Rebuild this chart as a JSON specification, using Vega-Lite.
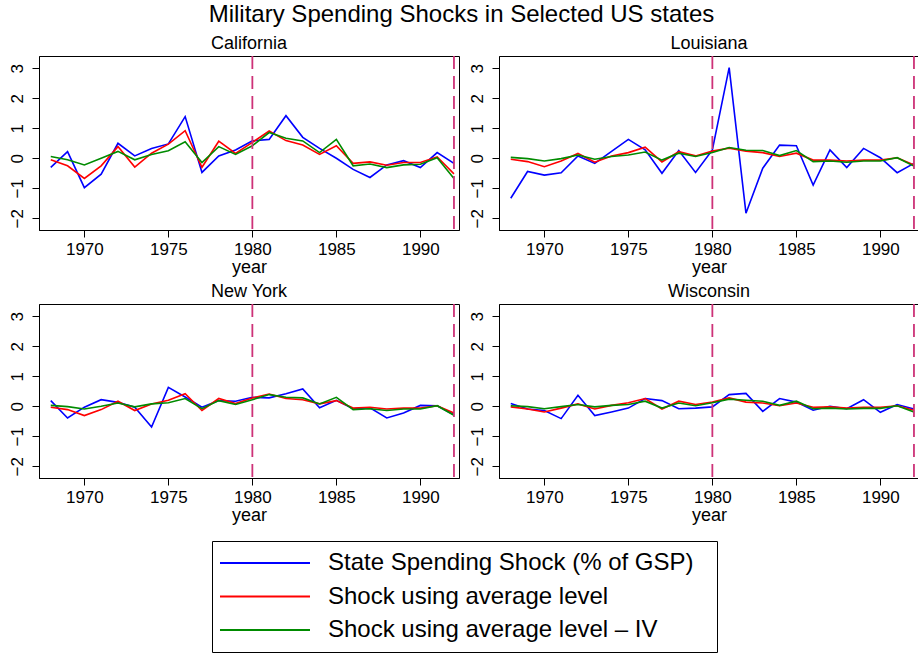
{
"$schema": "https://vega.github.io/schema/vega-lite/v6.json",
"padding": {"left": 7, "top": 2, "right": 0, "bottom": 0},
"background": "white",
"title": {"text": "Military Spending Shocks in Selected US states", "fontSize": 24, "font": "Liberation Sans", "fontWeight": "normal", "color": "black", "anchor": "middle", "offset": 8, "dx": -2},
"datasets": {
"breaks": [{"year": 1980}, {"year": 1992}],
"shocks": [
{"state":"California","series":"gsp","year":1968,"value":-0.3},
{"state":"California","series":"gsp","year":1969,"value":0.22},
{"state":"California","series":"gsp","year":1970,"value":-0.98},
{"state":"California","series":"gsp","year":1971,"value":-0.53},
{"state":"California","series":"gsp","year":1972,"value":0.5},
{"state":"California","series":"gsp","year":1973,"value":0.08},
{"state":"California","series":"gsp","year":1974,"value":0.33},
{"state":"California","series":"gsp","year":1975,"value":0.48},
{"state":"California","series":"gsp","year":1976,"value":1.39},
{"state":"California","series":"gsp","year":1977,"value":-0.47},
{"state":"California","series":"gsp","year":1978,"value":0.08},
{"state":"California","series":"gsp","year":1979,"value":0.28},
{"state":"California","series":"gsp","year":1980,"value":0.58},
{"state":"California","series":"gsp","year":1981,"value":0.63},
{"state":"California","series":"gsp","year":1982,"value":1.42},
{"state":"California","series":"gsp","year":1983,"value":0.7},
{"state":"California","series":"gsp","year":1984,"value":0.33},
{"state":"California","series":"gsp","year":1985,"value":0.0},
{"state":"California","series":"gsp","year":1986,"value":-0.37},
{"state":"California","series":"gsp","year":1987,"value":-0.64},
{"state":"California","series":"gsp","year":1988,"value":-0.22},
{"state":"California","series":"gsp","year":1989,"value":-0.08},
{"state":"California","series":"gsp","year":1990,"value":-0.31},
{"state":"California","series":"gsp","year":1991,"value":0.19},
{"state":"California","series":"gsp","year":1992,"value":-0.17},
{"state":"California","series":"avg","year":1968,"value":-0.05},
{"state":"California","series":"avg","year":1969,"value":-0.25},
{"state":"California","series":"avg","year":1970,"value":-0.67},
{"state":"California","series":"avg","year":1971,"value":-0.25},
{"state":"California","series":"avg","year":1972,"value":0.39},
{"state":"California","series":"avg","year":1973,"value":-0.29},
{"state":"California","series":"avg","year":1974,"value":0.17},
{"state":"California","series":"avg","year":1975,"value":0.47},
{"state":"California","series":"avg","year":1976,"value":0.92},
{"state":"California","series":"avg","year":1977,"value":-0.3},
{"state":"California","series":"avg","year":1978,"value":0.57},
{"state":"California","series":"avg","year":1979,"value":0.16},
{"state":"California","series":"avg","year":1980,"value":0.53},
{"state":"California","series":"avg","year":1981,"value":0.91},
{"state":"California","series":"avg","year":1982,"value":0.59},
{"state":"California","series":"avg","year":1983,"value":0.44},
{"state":"California","series":"avg","year":1984,"value":0.13},
{"state":"California","series":"avg","year":1985,"value":0.42},
{"state":"California","series":"avg","year":1986,"value":-0.17},
{"state":"California","series":"avg","year":1987,"value":-0.12},
{"state":"California","series":"avg","year":1988,"value":-0.23},
{"state":"California","series":"avg","year":1989,"value":-0.14},
{"state":"California","series":"avg","year":1990,"value":-0.14},
{"state":"California","series":"avg","year":1991,"value":0.05},
{"state":"California","series":"avg","year":1992,"value":-0.52},
{"state":"California","series":"iv","year":1968,"value":0.06},
{"state":"California","series":"iv","year":1969,"value":-0.05},
{"state":"California","series":"iv","year":1970,"value":-0.22},
{"state":"California","series":"iv","year":1971,"value":0.0},
{"state":"California","series":"iv","year":1972,"value":0.23},
{"state":"California","series":"iv","year":1973,"value":-0.05},
{"state":"California","series":"iv","year":1974,"value":0.13},
{"state":"California","series":"iv","year":1975,"value":0.25},
{"state":"California","series":"iv","year":1976,"value":0.55},
{"state":"California","series":"iv","year":1977,"value":-0.14},
{"state":"California","series":"iv","year":1978,"value":0.39},
{"state":"California","series":"iv","year":1979,"value":0.13},
{"state":"California","series":"iv","year":1980,"value":0.42},
{"state":"California","series":"iv","year":1981,"value":0.86},
{"state":"California","series":"iv","year":1982,"value":0.67},
{"state":"California","series":"iv","year":1983,"value":0.58},
{"state":"California","series":"iv","year":1984,"value":0.19},
{"state":"California","series":"iv","year":1985,"value":0.63},
{"state":"California","series":"iv","year":1986,"value":-0.25},
{"state":"California","series":"iv","year":1987,"value":-0.19},
{"state":"California","series":"iv","year":1988,"value":-0.31},
{"state":"California","series":"iv","year":1989,"value":-0.22},
{"state":"California","series":"iv","year":1990,"value":-0.2},
{"state":"California","series":"iv","year":1991,"value":0.02},
{"state":"California","series":"iv","year":1992,"value":-0.67},
{"state":"Louisiana","series":"gsp","year":1968,"value":-1.33},
{"state":"Louisiana","series":"gsp","year":1969,"value":-0.44},
{"state":"Louisiana","series":"gsp","year":1970,"value":-0.56},
{"state":"Louisiana","series":"gsp","year":1971,"value":-0.48},
{"state":"Louisiana","series":"gsp","year":1972,"value":0.08},
{"state":"Louisiana","series":"gsp","year":1973,"value":-0.17},
{"state":"Louisiana","series":"gsp","year":1974,"value":0.23},
{"state":"Louisiana","series":"gsp","year":1975,"value":0.63},
{"state":"Louisiana","series":"gsp","year":1976,"value":0.28},
{"state":"Louisiana","series":"gsp","year":1977,"value":-0.5},
{"state":"Louisiana","series":"gsp","year":1978,"value":0.26},
{"state":"Louisiana","series":"gsp","year":1979,"value":-0.47},
{"state":"Louisiana","series":"gsp","year":1980,"value":0.28},
{"state":"Louisiana","series":"gsp","year":1981,"value":3.02},
{"state":"Louisiana","series":"gsp","year":1982,"value":-1.83},
{"state":"Louisiana","series":"gsp","year":1983,"value":-0.33},
{"state":"Louisiana","series":"gsp","year":1984,"value":0.44},
{"state":"Louisiana","series":"gsp","year":1985,"value":0.42},
{"state":"Louisiana","series":"gsp","year":1986,"value":-0.89},
{"state":"Louisiana","series":"gsp","year":1987,"value":0.28},
{"state":"Louisiana","series":"gsp","year":1988,"value":-0.31},
{"state":"Louisiana","series":"gsp","year":1989,"value":0.33},
{"state":"Louisiana","series":"gsp","year":1990,"value":0.02},
{"state":"Louisiana","series":"gsp","year":1991,"value":-0.48},
{"state":"Louisiana","series":"gsp","year":1992,"value":-0.17},
{"state":"Louisiana","series":"avg","year":1968,"value":-0.03},
{"state":"Louisiana","series":"avg","year":1969,"value":-0.11},
{"state":"Louisiana","series":"avg","year":1970,"value":-0.28},
{"state":"Louisiana","series":"avg","year":1971,"value":-0.09},
{"state":"Louisiana","series":"avg","year":1972,"value":0.16},
{"state":"Louisiana","series":"avg","year":1973,"value":-0.13},
{"state":"Louisiana","series":"avg","year":1974,"value":0.08},
{"state":"Louisiana","series":"avg","year":1975,"value":0.19},
{"state":"Louisiana","series":"avg","year":1976,"value":0.37},
{"state":"Louisiana","series":"avg","year":1977,"value":-0.12},
{"state":"Louisiana","series":"avg","year":1978,"value":0.22},
{"state":"Louisiana","series":"avg","year":1979,"value":0.08},
{"state":"Louisiana","series":"avg","year":1980,"value":0.24},
{"state":"Louisiana","series":"avg","year":1981,"value":0.34},
{"state":"Louisiana","series":"avg","year":1982,"value":0.24},
{"state":"Louisiana","series":"avg","year":1983,"value":0.19},
{"state":"Louisiana","series":"avg","year":1984,"value":0.06},
{"state":"Louisiana","series":"avg","year":1985,"value":0.17},
{"state":"Louisiana","series":"avg","year":1986,"value":-0.06},
{"state":"Louisiana","series":"avg","year":1987,"value":-0.06},
{"state":"Louisiana","series":"avg","year":1988,"value":-0.09},
{"state":"Louisiana","series":"avg","year":1989,"value":-0.06},
{"state":"Louisiana","series":"avg","year":1990,"value":-0.06},
{"state":"Louisiana","series":"avg","year":1991,"value":0.02},
{"state":"Louisiana","series":"avg","year":1992,"value":-0.22},
{"state":"Louisiana","series":"iv","year":1968,"value":0.03},
{"state":"Louisiana","series":"iv","year":1969,"value":-0.01},
{"state":"Louisiana","series":"iv","year":1970,"value":-0.09},
{"state":"Louisiana","series":"iv","year":1971,"value":-0.01},
{"state":"Louisiana","series":"iv","year":1972,"value":0.11},
{"state":"Louisiana","series":"iv","year":1973,"value":-0.03},
{"state":"Louisiana","series":"iv","year":1974,"value":0.06},
{"state":"Louisiana","series":"iv","year":1975,"value":0.11},
{"state":"Louisiana","series":"iv","year":1976,"value":0.21},
{"state":"Louisiana","series":"iv","year":1977,"value":-0.06},
{"state":"Louisiana","series":"iv","year":1978,"value":0.17},
{"state":"Louisiana","series":"iv","year":1979,"value":0.06},
{"state":"Louisiana","series":"iv","year":1980,"value":0.19},
{"state":"Louisiana","series":"iv","year":1981,"value":0.36},
{"state":"Louisiana","series":"iv","year":1982,"value":0.27},
{"state":"Louisiana","series":"iv","year":1983,"value":0.26},
{"state":"Louisiana","series":"iv","year":1984,"value":0.09},
{"state":"Louisiana","series":"iv","year":1985,"value":0.26},
{"state":"Louisiana","series":"iv","year":1986,"value":-0.11},
{"state":"Louisiana","series":"iv","year":1987,"value":-0.09},
{"state":"Louisiana","series":"iv","year":1988,"value":-0.13},
{"state":"Louisiana","series":"iv","year":1989,"value":-0.09},
{"state":"Louisiana","series":"iv","year":1990,"value":-0.09},
{"state":"Louisiana","series":"iv","year":1991,"value":0.02},
{"state":"Louisiana","series":"iv","year":1992,"value":-0.26},
{"state":"New York","series":"gsp","year":1968,"value":0.19},
{"state":"New York","series":"gsp","year":1969,"value":-0.39},
{"state":"New York","series":"gsp","year":1970,"value":-0.03},
{"state":"New York","series":"gsp","year":1971,"value":0.22},
{"state":"New York","series":"gsp","year":1972,"value":0.13},
{"state":"New York","series":"gsp","year":1973,"value":-0.03},
{"state":"New York","series":"gsp","year":1974,"value":-0.69},
{"state":"New York","series":"gsp","year":1975,"value":0.63},
{"state":"New York","series":"gsp","year":1976,"value":0.31},
{"state":"New York","series":"gsp","year":1977,"value":-0.03},
{"state":"New York","series":"gsp","year":1978,"value":0.19},
{"state":"New York","series":"gsp","year":1979,"value":0.17},
{"state":"New York","series":"gsp","year":1980,"value":0.3},
{"state":"New York","series":"gsp","year":1981,"value":0.28},
{"state":"New York","series":"gsp","year":1982,"value":0.42},
{"state":"New York","series":"gsp","year":1983,"value":0.58},
{"state":"New York","series":"gsp","year":1984,"value":-0.05},
{"state":"New York","series":"gsp","year":1985,"value":0.2},
{"state":"New York","series":"gsp","year":1986,"value":-0.08},
{"state":"New York","series":"gsp","year":1987,"value":-0.05},
{"state":"New York","series":"gsp","year":1988,"value":-0.39},
{"state":"New York","series":"gsp","year":1989,"value":-0.22},
{"state":"New York","series":"gsp","year":1990,"value":0.03},
{"state":"New York","series":"gsp","year":1991,"value":0.02},
{"state":"New York","series":"gsp","year":1992,"value":-0.28},
{"state":"New York","series":"avg","year":1968,"value":-0.03},
{"state":"New York","series":"avg","year":1969,"value":-0.11},
{"state":"New York","series":"avg","year":1970,"value":-0.31},
{"state":"New York","series":"avg","year":1971,"value":-0.11},
{"state":"New York","series":"avg","year":1972,"value":0.17},
{"state":"New York","series":"avg","year":1973,"value":-0.14},
{"state":"New York","series":"avg","year":1974,"value":0.08},
{"state":"New York","series":"avg","year":1975,"value":0.2},
{"state":"New York","series":"avg","year":1976,"value":0.42},
{"state":"New York","series":"avg","year":1977,"value":-0.14},
{"state":"New York","series":"avg","year":1978,"value":0.26},
{"state":"New York","series":"avg","year":1979,"value":0.09},
{"state":"New York","series":"avg","year":1980,"value":0.28},
{"state":"New York","series":"avg","year":1981,"value":0.41},
{"state":"New York","series":"avg","year":1982,"value":0.26},
{"state":"New York","series":"avg","year":1983,"value":0.22},
{"state":"New York","series":"avg","year":1984,"value":0.08},
{"state":"New York","series":"avg","year":1985,"value":0.19},
{"state":"New York","series":"avg","year":1986,"value":-0.06},
{"state":"New York","series":"avg","year":1987,"value":-0.03},
{"state":"New York","series":"avg","year":1988,"value":-0.09},
{"state":"New York","series":"avg","year":1989,"value":-0.06},
{"state":"New York","series":"avg","year":1990,"value":-0.06},
{"state":"New York","series":"avg","year":1991,"value":0.02},
{"state":"New York","series":"avg","year":1992,"value":-0.22},
{"state":"New York","series":"iv","year":1968,"value":0.03},
{"state":"New York","series":"iv","year":1969,"value":-0.01},
{"state":"New York","series":"iv","year":1970,"value":-0.09},
{"state":"New York","series":"iv","year":1971,"value":0.0},
{"state":"New York","series":"iv","year":1972,"value":0.11},
{"state":"New York","series":"iv","year":1973,"value":-0.02},
{"state":"New York","series":"iv","year":1974,"value":0.08},
{"state":"New York","series":"iv","year":1975,"value":0.12},
{"state":"New York","series":"iv","year":1976,"value":0.26},
{"state":"New York","series":"iv","year":1977,"value":-0.08},
{"state":"New York","series":"iv","year":1978,"value":0.19},
{"state":"New York","series":"iv","year":1979,"value":0.06},
{"state":"New York","series":"iv","year":1980,"value":0.22},
{"state":"New York","series":"iv","year":1981,"value":0.39},
{"state":"New York","series":"iv","year":1982,"value":0.3},
{"state":"New York","series":"iv","year":1983,"value":0.28},
{"state":"New York","series":"iv","year":1984,"value":0.08},
{"state":"New York","series":"iv","year":1985,"value":0.3},
{"state":"New York","series":"iv","year":1986,"value":-0.11},
{"state":"New York","series":"iv","year":1987,"value":-0.08},
{"state":"New York","series":"iv","year":1988,"value":-0.14},
{"state":"New York","series":"iv","year":1989,"value":-0.09},
{"state":"New York","series":"iv","year":1990,"value":-0.09},
{"state":"New York","series":"iv","year":1991,"value":0.02},
{"state":"New York","series":"iv","year":1992,"value":-0.3},
{"state":"Wisconsin","series":"gsp","year":1968,"value":0.09},
{"state":"Wisconsin","series":"gsp","year":1969,"value":-0.09},
{"state":"Wisconsin","series":"gsp","year":1970,"value":-0.14},
{"state":"Wisconsin","series":"gsp","year":1971,"value":-0.41},
{"state":"Wisconsin","series":"gsp","year":1972,"value":0.37},
{"state":"Wisconsin","series":"gsp","year":1973,"value":-0.31},
{"state":"Wisconsin","series":"gsp","year":1974,"value":-0.19},
{"state":"Wisconsin","series":"gsp","year":1975,"value":-0.06},
{"state":"Wisconsin","series":"gsp","year":1976,"value":0.26},
{"state":"Wisconsin","series":"gsp","year":1977,"value":0.19},
{"state":"Wisconsin","series":"gsp","year":1978,"value":-0.08},
{"state":"Wisconsin","series":"gsp","year":1979,"value":-0.06},
{"state":"Wisconsin","series":"gsp","year":1980,"value":-0.02},
{"state":"Wisconsin","series":"gsp","year":1981,"value":0.39},
{"state":"Wisconsin","series":"gsp","year":1982,"value":0.43},
{"state":"Wisconsin","series":"gsp","year":1983,"value":-0.17},
{"state":"Wisconsin","series":"gsp","year":1984,"value":0.26},
{"state":"Wisconsin","series":"gsp","year":1985,"value":0.14},
{"state":"Wisconsin","series":"gsp","year":1986,"value":-0.13},
{"state":"Wisconsin","series":"gsp","year":1987,"value":0.0},
{"state":"Wisconsin","series":"gsp","year":1988,"value":-0.08},
{"state":"Wisconsin","series":"gsp","year":1989,"value":0.22},
{"state":"Wisconsin","series":"gsp","year":1990,"value":-0.2},
{"state":"Wisconsin","series":"gsp","year":1991,"value":0.06},
{"state":"Wisconsin","series":"gsp","year":1992,"value":-0.09},
{"state":"Wisconsin","series":"avg","year":1968,"value":-0.02},
{"state":"Wisconsin","series":"avg","year":1969,"value":-0.09},
{"state":"Wisconsin","series":"avg","year":1970,"value":-0.19},
{"state":"Wisconsin","series":"avg","year":1971,"value":-0.06},
{"state":"Wisconsin","series":"avg","year":1972,"value":0.08},
{"state":"Wisconsin","series":"avg","year":1973,"value":-0.09},
{"state":"Wisconsin","series":"avg","year":1974,"value":0.03},
{"state":"Wisconsin","series":"avg","year":1975,"value":0.12},
{"state":"Wisconsin","series":"avg","year":1976,"value":0.26},
{"state":"Wisconsin","series":"avg","year":1977,"value":-0.09},
{"state":"Wisconsin","series":"avg","year":1978,"value":0.17},
{"state":"Wisconsin","series":"avg","year":1979,"value":0.06},
{"state":"Wisconsin","series":"avg","year":1980,"value":0.14},
{"state":"Wisconsin","series":"avg","year":1981,"value":0.28},
{"state":"Wisconsin","series":"avg","year":1982,"value":0.14},
{"state":"Wisconsin","series":"avg","year":1983,"value":0.11},
{"state":"Wisconsin","series":"avg","year":1984,"value":0.02},
{"state":"Wisconsin","series":"avg","year":1985,"value":0.11},
{"state":"Wisconsin","series":"avg","year":1986,"value":-0.03},
{"state":"Wisconsin","series":"avg","year":1987,"value":-0.02},
{"state":"Wisconsin","series":"avg","year":1988,"value":-0.06},
{"state":"Wisconsin","series":"avg","year":1989,"value":-0.03},
{"state":"Wisconsin","series":"avg","year":1990,"value":-0.03},
{"state":"Wisconsin","series":"avg","year":1991,"value":0.02},
{"state":"Wisconsin","series":"avg","year":1992,"value":-0.13},
{"state":"Wisconsin","series":"iv","year":1968,"value":0.02},
{"state":"Wisconsin","series":"iv","year":1969,"value":-0.01},
{"state":"Wisconsin","series":"iv","year":1970,"value":-0.08},
{"state":"Wisconsin","series":"iv","year":1971,"value":-0.01},
{"state":"Wisconsin","series":"iv","year":1972,"value":0.06},
{"state":"Wisconsin","series":"iv","year":1973,"value":-0.02},
{"state":"Wisconsin","series":"iv","year":1974,"value":0.03},
{"state":"Wisconsin","series":"iv","year":1975,"value":0.06},
{"state":"Wisconsin","series":"iv","year":1976,"value":0.17},
{"state":"Wisconsin","series":"iv","year":1977,"value":-0.06},
{"state":"Wisconsin","series":"iv","year":1978,"value":0.11},
{"state":"Wisconsin","series":"iv","year":1979,"value":0.02},
{"state":"Wisconsin","series":"iv","year":1980,"value":0.12},
{"state":"Wisconsin","series":"iv","year":1981,"value":0.24},
{"state":"Wisconsin","series":"iv","year":1982,"value":0.2},
{"state":"Wisconsin","series":"iv","year":1983,"value":0.17},
{"state":"Wisconsin","series":"iv","year":1984,"value":0.03},
{"state":"Wisconsin","series":"iv","year":1985,"value":0.17},
{"state":"Wisconsin","series":"iv","year":1986,"value":-0.08},
{"state":"Wisconsin","series":"iv","year":1987,"value":-0.06},
{"state":"Wisconsin","series":"iv","year":1988,"value":-0.09},
{"state":"Wisconsin","series":"iv","year":1989,"value":-0.07},
{"state":"Wisconsin","series":"iv","year":1990,"value":-0.07},
{"state":"Wisconsin","series":"iv","year":1991,"value":0.02},
{"state":"Wisconsin","series":"iv","year":1992,"value":-0.19}
]
},
"spacing": 5,
"vconcat": [
{"hconcat": [
{"title": "California", "width": 420, "height": 174, "layer": [
 {"data": {"name": "shocks"}, "transform": [{"filter": "datum.state === 'California'"}], "mark": {"type": "line", "strokeWidth": 1.6},
  "encoding": {"x": {"field": "year", "type": "quantitative", "scale": {"domain": [1967.3, 1992.3], "nice": false, "zero": false}, "axis": {"values": [1970, 1975, 1980, 1985, 1990], "format": "d", "title": "year"}},
   "y": {"field": "value", "type": "quantitative", "scale": {"domain": [-2.39, 3.41], "nice": false, "zero": false}, "axis": {"values": [-2, -1, 0, 1, 2, 3], "title": null}},
   "color": {"field": "series", "type": "nominal", "sort": ["gsp", "avg", "iv"], "scale": {"domain": ["gsp", "avg", "iv"], "range": ["#0000FF", "#FF0000", "#008B00"]},
    "legend": {"orient": "none", "legendX": 173, "legendY": 485, "title": "\u00a0", "titleOrient": "right", "titleFontSize": 10, "titlePadding": 13, "symbolType": "M-1.556,0H8.444", "symbolSize": 324, "symbolStrokeWidth": 2, "labelFontSize": 24, "labelOffset": 82, "padding": 10, "rowPadding": 9.5, "strokeColor": "black", "fillColor": "white", "labelFont": "Liberation Sans", "labelColor": "black", "labelLimit": 0,
     "labelExpr": "datum.label == 'gsp' ? 'State Spending Shock (% of GSP)' : datum.label == 'avg' ? 'Shock using average level' : 'Shock using average level – IV'"}}}},
 {"data": {"name": "breaks"}, "mark": {"type": "rule", "color": "#CD3278", "strokeDash": [13, 7], "strokeWidth": 1.8}, "encoding": {"x": {"field": "year", "type": "quantitative"}}}
]},
{"title": "Louisiana", "width": 420, "height": 174, "layer": [
 {"data": {"name": "shocks"}, "transform": [{"filter": "datum.state === 'Louisiana'"}], "mark": {"type": "line", "strokeWidth": 1.6},
  "encoding": {"x": {"field": "year", "type": "quantitative", "scale": {"domain": [1967.3, 1992.3], "nice": false, "zero": false}, "axis": {"values": [1970, 1975, 1980, 1985, 1990], "format": "d", "title": "year"}},
   "y": {"field": "value", "type": "quantitative", "scale": {"domain": [-2.39, 3.41], "nice": false, "zero": false}, "axis": {"values": [-2, -1, 0, 1, 2, 3], "title": null}},
   "color": {"field": "series", "type": "nominal", "sort": ["gsp", "avg", "iv"], "scale": {"domain": ["gsp", "avg", "iv"], "range": ["#0000FF", "#FF0000", "#008B00"]}}}},
 {"data": {"name": "breaks"}, "mark": {"type": "rule", "color": "#CD3278", "strokeDash": [13, 7], "strokeWidth": 1.8}, "encoding": {"x": {"field": "year", "type": "quantitative"}}}
]}
], "spacing": 40, "bounds": "flush"},
{"hconcat": [
{"title": "New York", "width": 420, "height": 174, "layer": [
 {"data": {"name": "shocks"}, "transform": [{"filter": "datum.state === 'New York'"}], "mark": {"type": "line", "strokeWidth": 1.6},
  "encoding": {"x": {"field": "year", "type": "quantitative", "scale": {"domain": [1967.3, 1992.3], "nice": false, "zero": false}, "axis": {"values": [1970, 1975, 1980, 1985, 1990], "format": "d", "title": "year"}},
   "y": {"field": "value", "type": "quantitative", "scale": {"domain": [-2.39, 3.41], "nice": false, "zero": false}, "axis": {"values": [-2, -1, 0, 1, 2, 3], "title": null}},
   "color": {"field": "series", "type": "nominal", "sort": ["gsp", "avg", "iv"], "scale": {"domain": ["gsp", "avg", "iv"], "range": ["#0000FF", "#FF0000", "#008B00"]}}}},
 {"data": {"name": "breaks"}, "mark": {"type": "rule", "color": "#CD3278", "strokeDash": [13, 7], "strokeWidth": 1.8}, "encoding": {"x": {"field": "year", "type": "quantitative"}}}
]},
{"title": "Wisconsin", "width": 420, "height": 174, "layer": [
 {"data": {"name": "shocks"}, "transform": [{"filter": "datum.state === 'Wisconsin'"}], "mark": {"type": "line", "strokeWidth": 1.6},
  "encoding": {"x": {"field": "year", "type": "quantitative", "scale": {"domain": [1967.3, 1992.3], "nice": false, "zero": false}, "axis": {"values": [1970, 1975, 1980, 1985, 1990], "format": "d", "title": "year"}},
   "y": {"field": "value", "type": "quantitative", "scale": {"domain": [-2.39, 3.41], "nice": false, "zero": false}, "axis": {"values": [-2, -1, 0, 1, 2, 3], "title": null}},
   "color": {"field": "series", "type": "nominal", "sort": ["gsp", "avg", "iv"], "scale": {"domain": ["gsp", "avg", "iv"], "range": ["#0000FF", "#FF0000", "#008B00"]}}}},
 {"data": {"name": "breaks"}, "mark": {"type": "rule", "color": "#CD3278", "strokeDash": [13, 7], "strokeWidth": 1.8}, "encoding": {"x": {"field": "year", "type": "quantitative"}}}
]}
], "spacing": 40, "bounds": "flush"}
],
"config": {
 "view": {"stroke": "black", "strokeWidth": 1},
 "title": {"font": "Liberation Sans", "fontSize": 18, "fontWeight": "normal", "color": "black", "offset": 2},
 "axis": {"labelFont": "Liberation Sans", "titleFont": "Liberation Sans", "labelFontSize": 17, "titleFontSize": 18, "titleFontWeight": "normal", "labelColor": "black", "titleColor": "black", "domainColor": "black", "tickColor": "black", "tickSize": 7, "grid": false, "domainWidth": 1, "tickWidth": 1},
 "axisX": {"labelPadding": 4, "titlePadding": 1, "labelFlush": false},
 "axisY": {"labelAngle": -90, "labelAlign": "center", "labelBaseline": "bottom", "labelPadding": 6}
}
}
